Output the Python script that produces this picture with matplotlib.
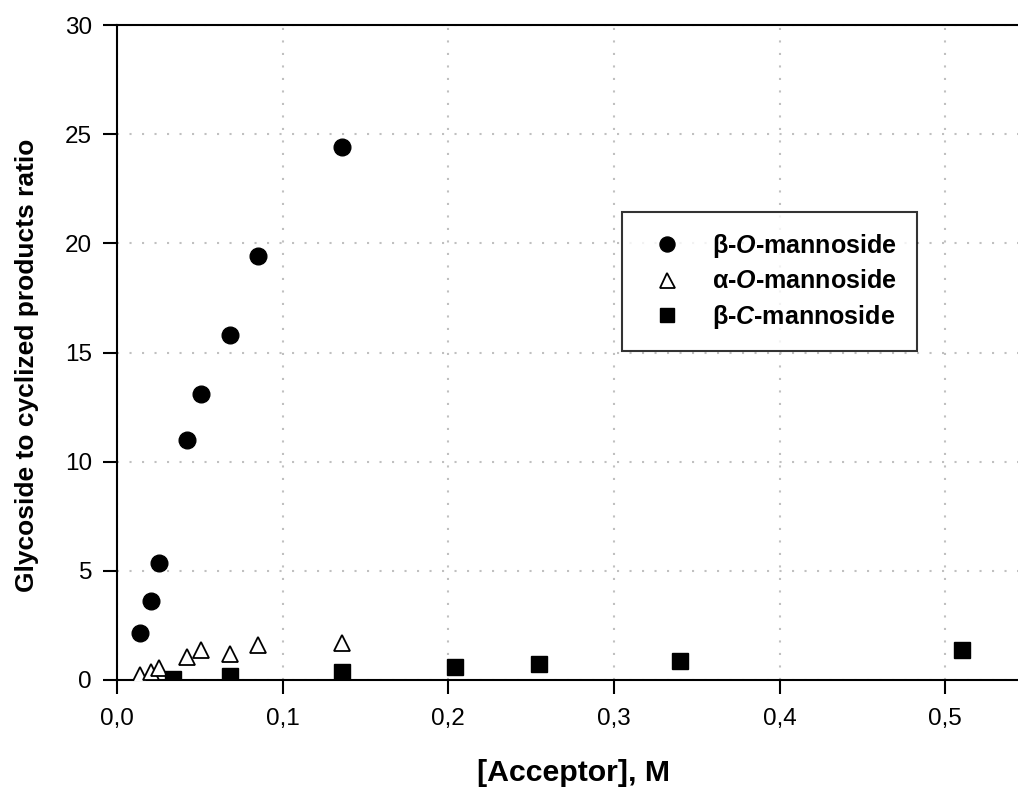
import matplotlib
matplotlib.use("Agg")
import matplotlib.pyplot as plt
from matplotlib.ticker import FuncFormatter, MultipleLocator

plt.rcParams['font.family'] = ['Liberation Sans', 'DejaVu Sans']
plt.rcParams['mathtext.fontset'] = 'custom'
plt.rcParams['mathtext.bfit'] = 'Liberation Sans:italic:bold'
plt.rcParams['mathtext.bf'] = 'Liberation Sans:bold'
plt.rcParams['mathtext.it'] = 'Liberation Sans:italic'
plt.rcParams['mathtext.rm'] = 'Liberation Sans'

# Data
beta_O_x = [0.0136, 0.0204, 0.0255, 0.0425, 0.051, 0.068, 0.085, 0.136]
beta_O_y = [2.17, 3.64, 5.35, 11.0, 13.1, 15.8, 19.4, 24.4]

alpha_O_x = [0.0136, 0.0204, 0.0255, 0.0425, 0.051, 0.068, 0.085, 0.136]
alpha_O_y = [0.23, 0.38, 0.54, 1.07, 1.38, 1.19, 1.6, 1.68]

beta_C_x = [0.034, 0.068, 0.136, 0.204, 0.255, 0.34, 0.51]
beta_C_y = [0.05, 0.18, 0.38, 0.6, 0.73, 0.87, 1.38]

labels = [r'β-$\mathbfit{O}$-mannoside', r'α-$\mathbfit{O}$-mannoside', r'β-$\mathbfit{C}$-mannoside']

fig = plt.figure(figsize=(10.18, 7.92), dpi=100)
ax = fig.add_axes([117/1018, 1-680/792, 1-117/1018, (680-25)/792])

ax.plot(beta_O_x, beta_O_y, 'o', color='black', markersize=12, label=labels[0], zorder=3)
ax.plot(alpha_O_x, alpha_O_y, '^', markerfacecolor='white', markeredgecolor='black',
        markeredgewidth=1.3, markersize=12, label=labels[1], zorder=3)
ax.plot(beta_C_x, beta_C_y, 's', color='black', markersize=11, label=labels[2], zorder=3)

ax.set_xlim(0, 0.544)
ax.set_ylim(0, 30)
ax.xaxis.set_major_locator(MultipleLocator(0.1))
ax.yaxis.set_major_locator(MultipleLocator(5))
ax.xaxis.set_major_formatter(FuncFormatter(lambda v, p: f"{v:.1f}".replace('.', ',')))
ax.yaxis.set_major_formatter(FuncFormatter(lambda v, p: f"{int(round(v))}"))

ax.grid(True, linestyle=(0, (1, 5)), color='#c0c0c0', linewidth=1.5)
ax.set_axisbelow(True)

for s in ['left', 'bottom', 'top']:
    ax.spines[s].set_linewidth(1.5)
ax.spines['right'].set_visible(False)
ax.tick_params(direction='out', length=10, width=1.5, labelsize=17.5)
ax.tick_params(axis='x', pad=10)
ax.tick_params(axis='y', pad=8)

ax.set_xlabel('[Acceptor], M', fontsize=21.8, fontweight='bold')
ax.set_ylabel('Glycoside to cyclized products ratio', fontsize=19, fontweight='bold')
ax.xaxis.set_label_coords((573.5-117)/901, -(773-680)/655)
ax.yaxis.set_label_coords(-(117-27)/901, (680-365)/655)
ax.xaxis.label.set_va('center')
ax.yaxis.label.set_va('center')

leg = ax.legend(loc='upper left', bbox_to_anchor=(622/1018, 1-212/792),
                bbox_transform=fig.transFigure, frameon=True, fancybox=False,
                edgecolor='black', prop={'weight': 'bold', 'size': 18},
                borderpad=0.8, labelspacing=0.38, handletextpad=0.8, borderaxespad=0,
                handlelength=2.0, markerscale=0.9)
leg.get_frame().set_linewidth(1.5)

fig.savefig('out.png', dpi=100)
